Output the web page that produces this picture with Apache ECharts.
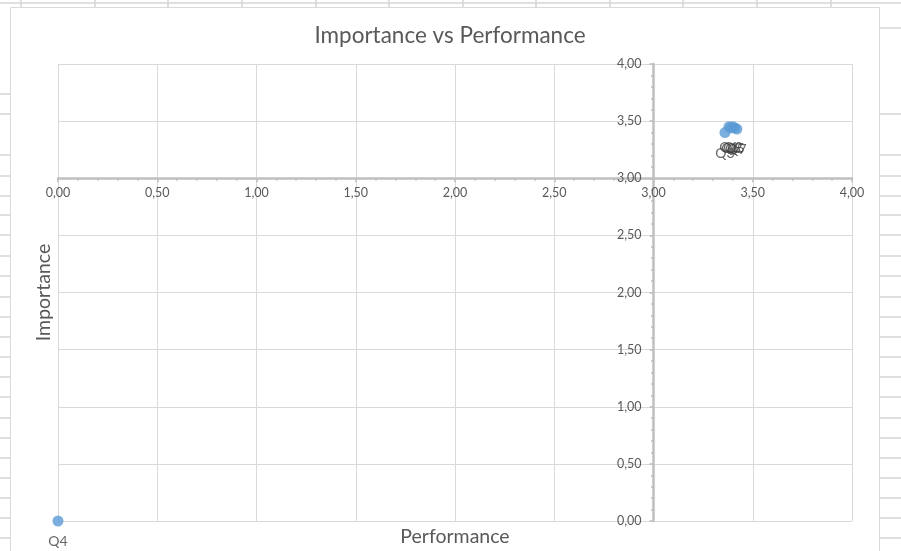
<!DOCTYPE html>
<html>
<head>
<meta charset="utf-8">
<script src="https://cdn.jsdelivr.net/npm/echarts@6/dist/echarts.min.js"></script>
<style>
  html, body { margin: 0; padding: 0; background: #ffffff; }
  #chart { width: 901px; height: 551px; }
</style>
</head>
<body>
<div id="chart"></div>
<script>
// Survey questions: mean performance (x) against mean importance (y)
const questions = ['Q1', 'Q2', 'Q3', 'Q4', 'Q5', 'Q6', 'Q7'];
const performance = [3.38, 3.40, 3.36, 0.00, 3.41, 3.39, 3.42];
const importance = [3.45, 3.45, 3.40, 0.00, 3.44, 3.44, 3.43];

// Axis ranges, steps and the value where the two axes cross
const axisMin = 0;
const axisMax = 4;
const axisStep = 0.5;
const crossX = 3.0;
const crossY = 3.0;

// Plot box inside the canvas
const plotLeft = 58, plotRight = 49, plotTop = 64, plotBottom = 30;
const W = 901, H = 551;
const plotW = W - plotLeft - plotRight;
const plotH = H - plotTop - plotBottom;

const FONT = 'Lato, "Open Sans", sans-serif';
const TXT = '#595959';
const GRID = '#d9d9d9';
const AXIS = '#bfbfbf';

const fmt = v => v.toFixed(2).replace('.', ',');

// Height of the strip above the horizontal axis, width of the strip right of the vertical axis
const xAxisStripH = plotH * (axisMax - crossY) / (axisMax - axisMin);
const yAxisStripW = plotW * (axisMax - crossX) / (axisMax - axisMin);

// Worksheet cell lines around the chart object
const sheetCols = [21, 95, 168, 242, 316, 389, 463, 536, 610, 683, 757, 831];
const sheetRowsLeft = [94, 114, 155, 176, 196, 215, 235, 256, 276, 297, 317, 337, 357, 377, 397, 418, 438, 458, 478, 498, 518, 538];
const sheetRowsRight = [28, 114, 155, 176, 196, 215, 235, 256, 276, 297, 317, 337, 357, 377, 397, 418, 438, 458, 478, 498, 518, 538];
const sheetLine = { stroke: '#d4d4d4', lineWidth: 1.5 };

const graphics = [];
graphics.push({ type: 'line', shape: { x1: 0, y1: 3, x2: W, y2: 3 }, style: sheetLine, silent: true });
sheetCols.forEach(x => graphics.push({ type: 'line', shape: { x1: x, y1: 0, x2: x, y2: 7 }, style: sheetLine, silent: true }));
sheetRowsLeft.forEach(y => graphics.push({ type: 'line', shape: { x1: 0, y1: y, x2: 10, y2: y }, style: sheetLine, silent: true }));
sheetRowsRight.forEach(y => graphics.push({ type: 'line', shape: { x1: 880, y1: y, x2: W, y2: y }, style: sheetLine, silent: true }));
// chart object frame
graphics.push({ type: 'rect', shape: { x: 10.5, y: 7.5, width: 869, height: 560 }, style: { fill: '#ffffff', stroke: '#d9d9d9', lineWidth: 1 }, z: -10, silent: true });

const hiddenValueAxis = (extra) => Object.assign({
  type: 'value', min: axisMin, max: axisMax, interval: axisStep,
  axisLine: { show: false }, axisTick: { show: false }, axisLabel: { show: false },
  splitLine: { show: false }
}, extra);

const crossingAxis = (extra) => Object.assign({
  type: 'value', min: axisMin, max: axisMax, interval: axisStep,
  axisLine: { show: true, onZero: false, lineStyle: { color: AXIS, width: 2.5 } },
  axisTick: { show: true, length: 4, lineStyle: { color: AXIS, width: 1.5 } },
  minorTick: { show: true, splitNumber: 5, length: 2.5, lineStyle: { color: AXIS, width: 1.5 } },
  splitLine: { show: false }
}, extra);

const tickLabel = (margin) => ({ show: true, color: TXT, fontFamily: FONT, fontSize: 12.5, formatter: fmt, margin: margin });

const option = {
  animation: false,
  backgroundColor: '#ffffff',
  graphic: graphics,
  title: {
    text: 'Importance vs Performance',
    left: 445, top: 19, textAlign: 'center',
    textStyle: { color: TXT, fontFamily: FONT, fontSize: 22.5, fontWeight: 'normal' }
  },
  grid: [
    // main plot with gridlines
    { left: plotLeft, right: plotRight, top: plotTop, bottom: plotBottom, outerBoundsMode: 'none' },
    // strip whose lower edge is the horizontal axis at crossY
    { left: plotLeft, right: plotRight, top: plotTop, height: xAxisStripH, outerBoundsMode: 'none' },
    // strip whose left edge is the vertical axis at crossX
    { left: plotLeft + plotW - yAxisStripW, width: yAxisStripW, top: plotTop, bottom: plotBottom, outerBoundsMode: 'none' }
  ],
  xAxis: [
    hiddenValueAxis({
      gridIndex: 0,
      splitLine: { show: true, lineStyle: { color: GRID, width: 1 } },
      name: 'Performance', nameLocation: 'middle', nameGap: 6,
      nameTextStyle: { color: TXT, fontFamily: FONT, fontSize: 19.5 }
    }),
    crossingAxis({ gridIndex: 1, position: 'bottom', axisLabel: tickLabel(8) }),
    hiddenValueAxis({ gridIndex: 2, min: crossX })
  ],
  yAxis: [
    hiddenValueAxis({
      gridIndex: 0,
      splitLine: { show: true, lineStyle: { color: GRID, width: 1 } },
      name: 'Importance', nameLocation: 'middle', nameGap: 4,
      nameTextStyle: { color: TXT, fontFamily: FONT, fontSize: 19.5 }
    }),
    hiddenValueAxis({ gridIndex: 1, min: crossY }),
    crossingAxis({ gridIndex: 2, position: 'left', axisLabel: tickLabel(12) })
  ],
  series: [{
    type: 'scatter',
    xAxisIndex: 0, yAxisIndex: 0,
    clip: false,
    z: 5,
    symbol: 'circle',
    symbolSize: 11,
    itemStyle: { color: '#5b9bd5' },
    label: {
      show: true, position: 'bottom', distance: 8,
      formatter: p => p.data[2],
      color: '#404040', fontFamily: FONT, fontSize: 14
    },
    data: questions.map((q, i) => [performance[i], importance[i], q])
  }]
};

const chart = echarts.init(document.getElementById('chart'), null, { renderer: 'canvas' });
chart.setOption(option);
</script>
</body>
</html>
